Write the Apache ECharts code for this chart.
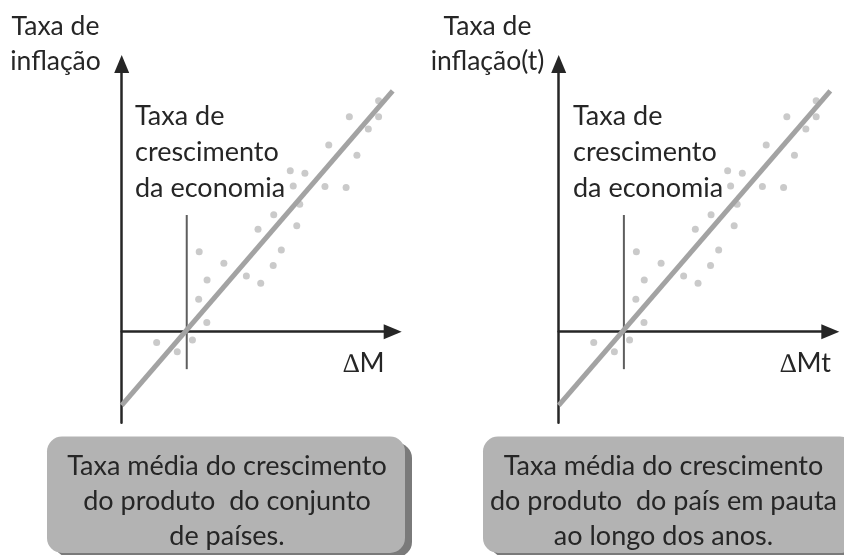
<!DOCTYPE html>
<html>
<head>
<meta charset="utf-8">
<script src="https://cdn.jsdelivr.net/npm/echarts@6/dist/echarts.min.js"></script>
<style>
  html, body { margin: 0; padding: 0; background: #fff; }
  #chart { width: 844px; height: 555px; }
</style>
</head>
<body>
<div id="chart"></div>
<script>
// nuvem de pontos (mesmos dados nos dois painéis)
var cloudX = [12.9, 20.5, 26.1, 31.4, 28.4, 31.5, 28.6, 37.7, 46.0, 51.3, 55.9, 58.9, 50.3, 56.1,
              64.6, 65.7, 63.3, 62.2, 67.6, 75.0, 82.8, 76.4, 86.8, 84.0, 91.0, 94.8, 94.8];
var cloudY = [-4.0, -7.5, -3.1, 3.4, 12.1, 19.3, 29.9, 25.6, 20.8, 18.1, 24.7, 30.5, 38.3, 43.7,
              39.6, 47.6, 54.4, 60.1, 59.2, 54.2, 53.9, 69.7, 65.9, 80.3, 75.7, 80.3, 86.3];
// reta de tendência
var trendX = [0, 100];
var trendY = [-27.5, 90];
// linha vertical (taxa de crescimento da economia)
var markX = [24, 24];
var markY = [-14, 43.6];

var yLabels = ['Taxa de\ninflação', 'Taxa de\ninflação(t)'];
var xLabels = ['\u2206M', '\u2206Mt'];
var midLabel = ['Taxa de', 'crescimento', 'da economia'];
var boxLines = [
  ['Taxa média do crescimento', 'do produto  do conjunto', 'de países.'],
  ['Taxa média do crescimento', 'do produto  do país em pauta', 'ao longo dos anos.']
];

var FONT = 'Lato';
var arrow = 'path://M5,0 L10,12 L0,12 Z';

function pairs(xs, ys) {
  var out = [];
  for (var i = 0; i < xs.length; i++) out.push([xs[i], ys[i]]);
  return out;
}

var chart = echarts.init(document.getElementById('chart'));

var grids = [
  { left: 121.7, top: 64, width: 271, height: 358.7 },
  { left: 558.7, top: 64, width: 271.6, height: 358.7 }
];

var xAxes = [], yAxes = [], series = [];
for (var g = 0; g < 2; g++) {
  xAxes.push({
    type: 'value', gridIndex: g, min: 0, max: 100,
    axisLine: { onZero: true, symbol: ['none', arrow], symbolSize: [15, 18],
                lineStyle: { color: '#262626', width: 2.5 } },
    axisTick: { show: false }, axisLabel: { show: false }, splitLine: { show: false }
  });
  yAxes.push({
    type: 'value', gridIndex: g, min: -34, max: 100,
    axisLine: { onZero: false, symbol: ['none', arrow], symbolSize: [15, 18],
                lineStyle: { color: '#262626', width: 2.5 } },
    axisTick: { show: false }, axisLabel: { show: false }, splitLine: { show: false }
  });
  series.push({
    type: 'line', xAxisIndex: g, yAxisIndex: g,
    data: pairs(markX, markY), symbol: 'none', clip: false, z: 3,
    lineStyle: { color: '#5e5e5e', width: 2 }
  });
  series.push({
    type: 'scatter', xAxisIndex: g, yAxisIndex: g,
    data: pairs(cloudX, cloudY), symbolSize: 7, z: 4,
    itemStyle: { color: '#bdbdbd' }
  });
  series.push({
    type: 'line', xAxisIndex: g, yAxisIndex: g,
    data: pairs(trendX, trendY), symbol: 'none', clip: false, z: 5,
    lineStyle: { color: '#a3a3a3', width: 5 }
  });
}

function txt(x, y, s, size, align) {
  return {
    type: 'text', x: x, y: y, z: 20,
    style: { text: s, font: size + 'px ' + FONT, fill: '#262626',
             align: align || 'left', verticalAlign: 'middle' }
  };
}

var graphics = [];
var panelDx = [0, 437];
for (var p = 0; p < 2; p++) {
  var dx = panelDx[p];
  var yl = yLabels[p].split('\n');
  var cx = p === 0 ? 55.5 : 487.5;
  graphics.push(txt(cx, 26.5, yl[0], 26.5, 'center'));
  graphics.push(txt(cx, 61.5, yl[1], 26.5, 'center'));
  var mx = p === 0 ? 135 : 573;
  for (var k = 0; k < midLabel.length; k++) {
    graphics.push(txt(mx, 116.5 + k * 35.8, midLabel[k], 27));
  }
  graphics.push(txt(343 + dx, 363, xLabels[p], 27));
}

// caixas de legenda
var boxes = [
  { x: 47, w: 358, cx: 227 },
  { x: 483, w: 372, cx: 663.5 }
];
for (var b = 0; b < 2; b++) {
  var bx = boxes[b];
  graphics.push({ type: 'rect', z: 10,
    shape: { x: bx.x + 7, y: 443, width: bx.w, height: 114, r: 15 },
    style: { fill: '#7a7a7a' } });
  graphics.push({ type: 'rect', z: 11,
    shape: { x: bx.x, y: 436.5, width: bx.w, height: 116.5, r: 15 },
    style: { fill: '#b3b3b3' } });
  for (var l = 0; l < 3; l++) {
    graphics.push(txt(bx.cx, 466 + l * 35, boxLines[b][l], 27, 'center'));
  }
}

chart.setOption({
  animation: false,
  grid: grids,
  xAxis: xAxes,
  yAxis: yAxes,
  series: series,
  graphic: graphics
});
</script>
</body>
</html>
